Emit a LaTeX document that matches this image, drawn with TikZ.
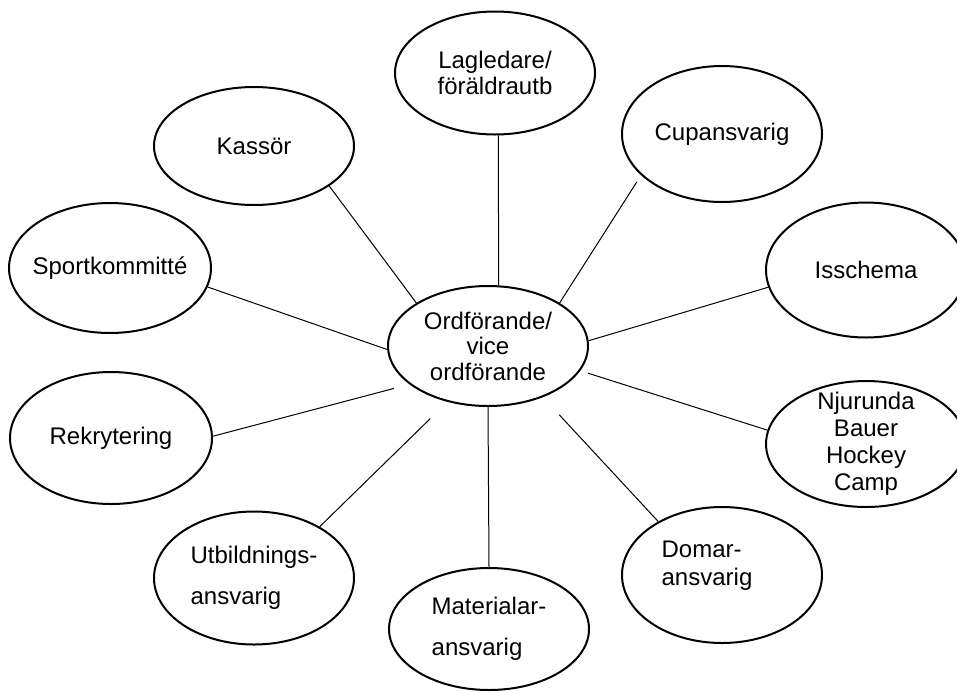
\documentclass[tikz,border=0pt]{standalone}
\usepackage{fontspec}
\setmainfont{Liberation Sans}
\usetikzlibrary{
    shapes.geometric   % Ellipses
}

\tikzset{
    bubble/.style={draw, ellipse, line width=1pt, inner sep=-4pt,
        minimum width=100pt, minimum height=62pt,
        font=\fontsize{12}{13.5}\selectfont, align=center},
    link/.style={line width=0.5pt}
}

\begin{document}
\begin{tikzpicture}[x=0.5pt,y=-0.5pt]
    \useasboundingbox (0,0) rectangle (957,691);
    % centre
    \node[bubble, minimum height=60pt, font=\fontsize{12}{12.75}\selectfont] (ordf) at (488,346) {Ordförande/\\vice\\ordförande};
    % ring
    \node[bubble, minimum height=61.5pt, font=\fontsize{12}{13}\selectfont] (lag) at (495,73) {Lagledare/\\föräldrautb};
    \node[bubble, minimum height=68pt] (cup) at (722,134) {Cupansvarig};
    \node[bubble, minimum height=67.5pt] (iss) at (866,270) {Isschema};
    \node[bubble, minimum height=63pt] (nju) at (866,444) {Njurunda\\Bauer\\Hockey\\Camp};
    \node[bubble, minimum height=68pt, align=left, font=\fontsize{12}{14}\selectfont] (dom) at (722,575) {Domar-\\ansvarig\hspace*{15pt}\rule[-11.6pt]{0pt}{0pt}};
    \node[bubble, minimum height=61pt, align=left, font=\fontsize{12}{20.5}\selectfont] (mat) at (489,629) {Materialar-\\ansvarig};
    \node[bubble, minimum height=66.5pt, align=left, font=\fontsize{12}{20.5}\selectfont] (utb) at (254,578) {Utbildnings-\\ansvarig};
    \node[bubble, minimum width=101pt, minimum height=66pt] (rek) at (111,438) {Rekrytering};
    \node[bubble, minimum width=101pt, minimum height=65pt] (spo) at (110,268) {Sportkommitté};
    \node[bubble, minimum height=59pt] (kas) at (254,146) {Kassör};

    % spokes
    \draw[link] (ordf.80) -- (lag.-87);
    \draw[link, shorten >=4pt] (ordf.31) -- (cup.207);
    \draw[link] (ordf.3) -- (iss.190);
    \draw[link, shorten <=4pt] (ordf.-15) -- (nju.172);
    \draw[link, shorten <=12pt] (ordf.-43) -- (dom.140);
    \draw[link] (ordf.-90) -- (mat.90);
    \draw[link, shorten <=12pt] (ordf.234) -- (utb.38);
    \draw[link, shorten <=8pt] (ordf.206) -- (rek.1);
    \draw[link] (ordf.182) -- (spo.-11);
    \draw[link] (ordf.149) -- (kas.-28);
\end{tikzpicture}
\end{document}
